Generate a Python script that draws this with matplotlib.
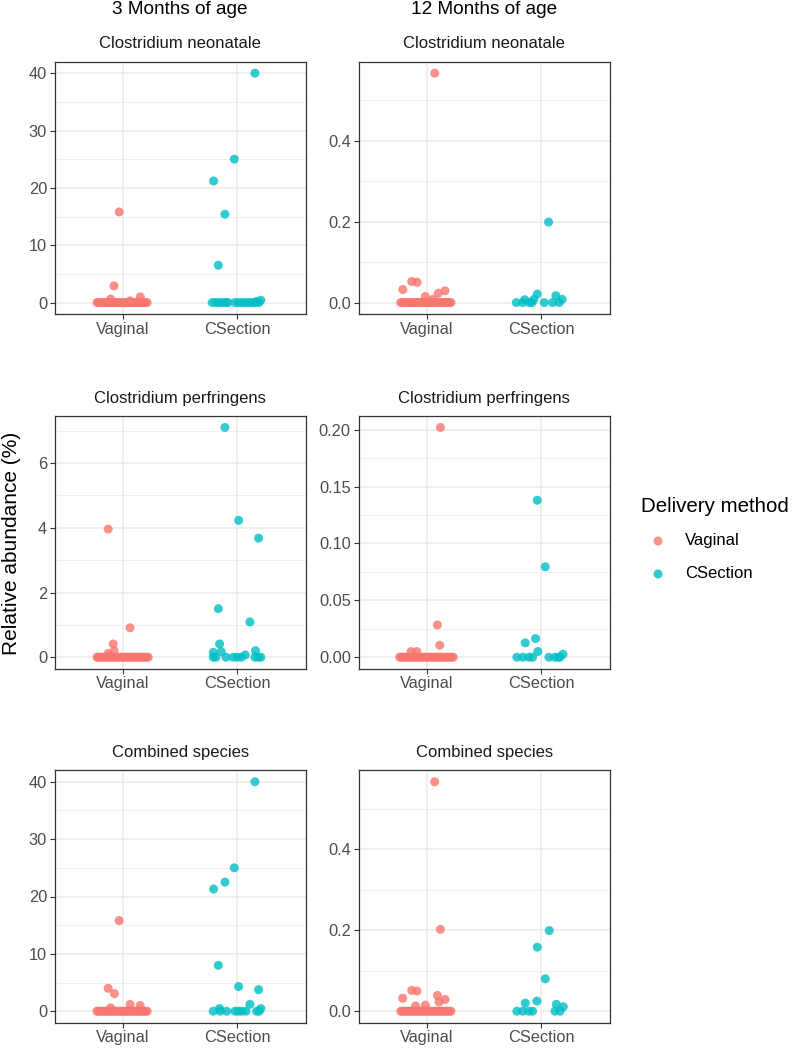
import numpy as np
import matplotlib.pyplot as plt
from matplotlib.ticker import FixedLocator

plt.rcParams['font.family'] = ['Liberation Sans', 'DejaVu Sans']

groups = ['Vaginal', 'CSection']
col_titles = ['3 Months of age', '12 Months of age']
row_titles = ['Clostridium neonatale', 'Clostridium perfringens', 'Combined species']

# ---- values (relative abundance, %) ----
# 3 months, C. neonatale
neo3_vag = [15.8, 2.9, 0.6, 1.0, 0.3] + [0] * 30
neo3_cs = [40, 25.0, 21.2, 15.4, 6.5, 0.4, 0.2] + [0] * 14
# 12 months, C. neonatale
neo12_vag = [0.567, 0.052, 0.050, 0.032, 0.029, 0.023, 0.015, 0.008] + [0] * 28
neo12_cs = [0.199, 0.021, 0.017, 0.008, 0.007, 0.008] + [0] * 7
# 3 months, C. perfringens
per3_vag = [3.96, 0.91, 0.41, 0.2, 0.12] + [0] * 30
per3_cs = [7.1, 4.23, 3.68, 1.5, 1.09, 0.41, 0.15, 0.17, 0.2, 0.07] + [0] * 9
# 12 months, C. perfringens
per12_vag = [0.202, 0.0284, 0.0105, 0.005, 0.005] + [0] * 30
per12_cs = [0.138, 0.0795, 0.0164, 0.0126, 0.005, 0.0026] + [0] * 8
# 3 months, combined
com3_vag = [15.8, 4.0, 3.06, 1.2, 1.0, 0.6] + [0] * 30
com3_cs = [40, 25, 22.5, 21.3, 8.0, 4.3, 3.76, 1.2, 0.46, 0.46] + [0] * 9
# 12 months, combined
com12_vag = [0.566, 0.202, 0.0515, 0.05, 0.032, 0.039, 0.029, 0.023, 0.015, 0.013] + [0] * 28
com12_cs = [0.199, 0.158, 0.080, 0.025, 0.020, 0.017, 0.011] + [0] * 6

# ---- horizontal jitter (fraction of a category), matched to the picture ----
neo3_vag_j = [-0.035, -0.08, -0.11, 0.15, 0.06] + list(np.linspace(-0.23, 0.21, 30))
neo3_cs_j = [0.155, -0.026, -0.207, -0.108, -0.166, 0.207, 0.17,
             -0.22, -0.19, -0.16, -0.13, -0.10, -0.08, -0.02, 0.01, 0.04, 0.07, 0.10, 0.13, 0.16, 0.19]
neo12_vag_j = [0.067, -0.134, -0.087, -0.212, 0.157, 0.099, -0.015, 0.052] + list(np.linspace(-0.23, 0.21, 28))
neo12_cs_j = [0.064, -0.035, 0.128, 0.183, -0.145, -0.064,
              -0.218, -0.163, -0.105, -0.08, 0.026, 0.099, 0.157]
per3_vag_j = [-0.131, 0.061, -0.087, -0.079, -0.13] + list(np.linspace(-0.23, 0.22, 30))
per3_cs_j = [-0.108, 0.012, 0.187, -0.166, 0.111, -0.155, -0.21, -0.14, 0.16, 0.07,
             -0.21, -0.187, -0.099, -0.035, 0.0, 0.035, 0.155, 0.184, 0.207]
per12_vag_j = [0.117, 0.091, 0.111, -0.14, -0.09] + list(np.linspace(-0.24, 0.23, 30))
per12_cs_j = [-0.035, 0.035, -0.05, -0.14, -0.03, 0.19,
              -0.213, -0.161, -0.108, -0.076, 0.067, 0.12, 0.149, 0.164]
com3_vag_j = [-0.035, -0.131, -0.076, 0.061, 0.149, -0.11] + list(np.linspace(-0.23, 0.21, 30))
com3_cs_j = [0.155, -0.026, -0.108, -0.207, -0.166, 0.012, 0.187, 0.111, -0.155, 0.207,
             -0.21, -0.15, -0.093, -0.02, 0.009, 0.038, 0.076, 0.169, 0.192]
com12_vag_j = [0.067, 0.117, -0.134, -0.088, -0.213, 0.091, 0.158, 0.105, -0.015, -0.1] + list(np.linspace(-0.23, 0.21, 28))
com12_cs_j = [0.07, -0.035, 0.035, -0.038, -0.14, 0.132, 0.193,
              -0.213, -0.161, -0.108, -0.076, 0.12, 0.164]

panels = [
    [(neo3_vag, neo3_vag_j, neo3_cs, neo3_cs_j), (neo12_vag, neo12_vag_j, neo12_cs, neo12_cs_j)],
    [(per3_vag, per3_vag_j, per3_cs, per3_cs_j), (per12_vag, per12_vag_j, per12_cs, per12_cs_j)],
    [(com3_vag, com3_vag_j, com3_cs, com3_cs_j), (com12_vag, com12_vag_j, com12_cs, com12_cs_j)],
]
breaks = [
    [(np.arange(0, 41, 10), '%d'), (np.array([0, 0.2, 0.4]), '%.1f')],
    [(np.arange(0, 7, 2), '%d'), (np.arange(0, 0.21, 0.05), '%.2f')],
    [(np.arange(0, 41, 10), '%d'), (np.array([0, 0.2, 0.4]), '%.1f')],
]

colors = ['#F8766D', '#00BFC4']
W, H = 792, 1050
fig = plt.figure(figsize=(W / 100, H / 100), dpi=100)

rows_px = [(61.7, 314), (416, 668.7), (770.3, 1022.7)]
cols_px = [(54.7, 305.7), (358.5, 609.8)]

def rect(l, t, r, b):
    return [l / W, 1 - b / H, (r - l) / W, (b - t) / H]

for i in range(3):
    for j in range(2):
        t, b = rows_px[i]
        l, r = cols_px[j]
        ax = fig.add_axes(rect(l, t, r, b))
        vag, vag_j, cs, cs_j = panels[i][j]
        ax.scatter(1 + np.array(vag_j), vag, s=42, color=colors[0], alpha=0.8, edgecolors='none', zorder=3)
        ax.scatter(2 + np.array(cs_j), cs, s=42, color=colors[1], alpha=0.8, edgecolors='none', zorder=3)

        ymax = max(max(vag), max(cs))
        pad = ymax * 0.05
        ax.set_ylim(-pad, ymax + pad)
        ax.set_xlim(0.4, 2.6)

        major, fmt = breaks[i][j]
        step = major[1] - major[0]
        minor = np.arange(step / 2, ymax + pad, step)
        ax.set_yticks(major)
        ax.set_yticklabels([fmt % v for v in major])
        ax.yaxis.set_minor_locator(FixedLocator(minor))
        ax.set_xticks([1, 2])
        ax.set_xticklabels(groups)
        ax.xaxis.set_minor_locator(FixedLocator([]))

        ax.grid(True, which='major', color='#EBEBEB', linewidth=1.1, zorder=0)
        ax.grid(True, which='minor', axis='y', color='#EBEBEB', linewidth=0.55, zorder=0)
        ax.set_axisbelow(True)
        ax.tick_params(which='major', length=3.5, width=0.8, color='#333333',
                       labelcolor='#4D4D4D', labelsize=11.8, pad=2)
        ax.tick_params(which='minor', length=0)
        for sp in ax.spines.values():
            sp.set_color('#333333')
            sp.set_linewidth(0.9)

        fig.text((l + r) / 2 / W, 1 - (t - 18) / H, row_titles[i],
                 ha='center', va='center', fontsize=12, color='#1A1A1A')

for j in range(2):
    l, r = cols_px[j]
    fig.text((l + r) / 2 / W, 1 - 10 / H, col_titles[j], ha='center', va='center', fontsize=13.7)

fig.text(12 / W, 1 - 543 / H, 'Relative abundance (%)', rotation=90,
         ha='center', va='center', fontsize=15)

# legend
lax = fig.add_axes([0, 0, 1, 1], facecolor='none')
lax.set_xlim(0, W)
lax.set_ylim(H, 0)
lax.axis('off')
lax.text(641, 506, 'Delivery method', ha='left', va='center', fontsize=14.8)
for k, g in enumerate(groups):
    y = 541 + k * 33
    lax.scatter([658], [y], s=42, color=colors[k], alpha=0.8, edgecolors='none')
    lax.text(685, y, g, ha='left', va='center', fontsize=12)

fig.savefig('out.png', dpi=100)
